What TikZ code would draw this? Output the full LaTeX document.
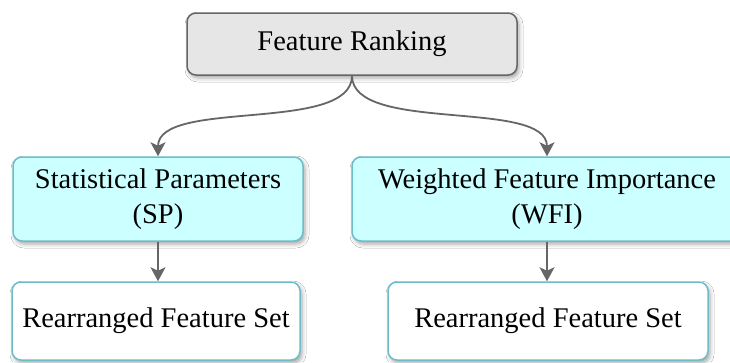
\documentclass[tikz,border=0pt]{standalone}
\usepackage{fontspec}
\setmainfont{Liberation Serif}
\usetikzlibrary{arrows.meta,shadows.blur}
\definecolor{boxgray}{HTML}{E6E6E6}
\definecolor{edgegray}{HTML}{666666}
\definecolor{palecyan}{HTML}{CCFFFF}
\definecolor{tealedge}{HTML}{6BBEC8}
\begin{document}
\begin{tikzpicture}[x=1pt,y=-1pt,
  basebox/.style={rectangle, rounded corners=9pt, line width=1.5pt, align=center,
    inner sep=0pt, font=\fontsize{28.5}{35}\selectfont,
    blur shadow={shadow xshift=2pt, shadow yshift=-3pt, shadow blur radius=4pt, shadow opacity=35}},
  rankbox/.style={basebox, draw=edgegray, fill=boxgray},
  methodbox/.style={basebox, draw=tealedge, fill=palecyan},
  resultbox/.style={basebox, draw=tealedge, fill=white},
  conn/.style={draw=edgegray, line width=1.8pt, -{Stealth[length=14pt,width=15pt,inset=3.5pt]}}]
  \clip (0,0) rectangle (730,362);
  \fill[white] (0,0) rectangle (730,362);

  % boxes
  \node[rankbox, minimum width=330pt, minimum height=62pt] (rank) at (352,44) {Feature Ranking};
  \node[methodbox, minimum width=290pt, minimum height=84pt] (sp) at (158,199) {Statistical Parameters\\(SP)};
  \node[methodbox, minimum width=390pt, minimum height=84pt] (wfi) at (547,199) {Weighted Feature Importance\\(WFI)};
  \node[resultbox, minimum width=288pt, minimum height=78pt] (rsp) at (156,321) {Rearranged Feature Set};
  \node[resultbox, minimum width=320pt, minimum height=78pt] (rwfi) at (548,321) {Rearranged Feature Set};

  % connectors
  \draw[conn] (rank.south) .. controls ([yshift=-58pt]rank.south) and ([yshift=58pt]sp.north) .. (sp.north);
  \draw[conn] (rank.south) .. controls ([yshift=-58pt]rank.south) and ([yshift=58pt]wfi.north) .. (wfi.north);
  \draw[conn] (sp.south) -- (sp.south |- rsp.north);
  \draw[conn] (wfi.south) -- (wfi.south |- rwfi.north);
\end{tikzpicture}
\end{document}
